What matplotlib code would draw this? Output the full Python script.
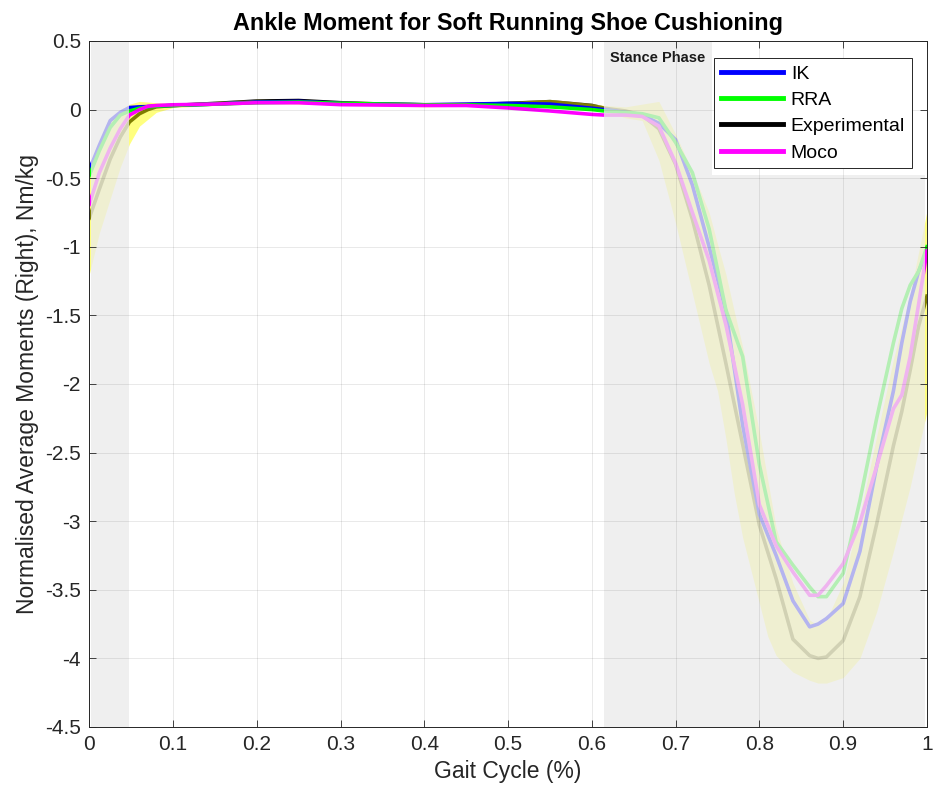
import matplotlib
matplotlib.use('Agg')
import matplotlib.pyplot as plt
from matplotlib.patches import Rectangle
from matplotlib.ticker import FuncFormatter, MultipleLocator

plt.rcParams['font.family'] = ['Liberation Sans', 'DejaVu Sans']
plt.rcParams['axes.unicode_minus'] = False

# gait cycle samples shared by the four curves
gait = [0, .012, .025, .037, .048, .06, .07, .08, .1,
        .15, .2, .25, .3, .35, .4, .45, .5, .55, .6,
        .615, .64, .66, .68, .70, .72, .74, .76, .78, .80,
        .82, .84, .86, .87, .88, .90, .92, .94, .96, .97,
        .98, .99, 1.0]

experimental = [-0.79, -0.58, -0.36, -0.2, -0.09, -0.03, 0.0, 0.02, 0.03,
                0.045, 0.062, 0.066, 0.05, 0.04, 0.035, 0.035, 0.045, 0.058, 0.03,
                0.01, -0.01, -0.04, -0.14, -0.4, -0.8, -1.28, -1.85, -2.44, -3.03,
                -3.42, -3.86, -3.98, -4.0, -3.99, -3.87, -3.55, -3.02, -2.45, -2.2,
                -1.9, -1.58, -1.36]

ik = [-0.44, -0.26, -0.08, -0.02, 0.015, 0.02, 0.022, 0.025, 0.03,
      0.04, 0.055, 0.06, 0.045, 0.04, 0.035, 0.04, 0.045, 0.04, 0.01,
      0.0, -0.02, -0.04, -0.1, -0.22, -0.55, -1.0, -1.47, -2.3, -2.95,
      -3.25, -3.58, -3.77, -3.75, -3.71, -3.6, -3.22, -2.6, -2.05, -1.7,
      -1.4, -1.18, -1.04]

rra = [-0.48, -0.3, -0.13, -0.04, -0.01, 0.01, 0.02, 0.025, 0.03,
       0.04, 0.05, 0.055, 0.045, 0.04, 0.035, 0.035, 0.03, 0.02, 0.0,
       -0.01, -0.02, -0.03, -0.06, -0.24, -0.46, -0.87, -1.46, -1.8, -2.59,
       -3.15, -3.32, -3.48, -3.55, -3.55, -3.38, -2.85, -2.25, -1.7, -1.45,
       -1.28, -1.18, -1.0]

moco = [-0.69, -0.46, -0.28, -0.14, -0.04, 0.0, 0.024, 0.03, 0.035,
        0.04, 0.05, 0.05, 0.036, 0.033, 0.03, 0.03, 0.012, -0.01, -0.035,
        -0.04, -0.04, -0.05, -0.12, -0.39, -0.75, -1.1, -1.57, -2.15, -2.88,
        -3.18, -3.37, -3.54, -3.54, -3.47, -3.31, -3.01, -2.6, -2.18, -2.08,
        -1.8, -1.42, -1.03]

# spread band around the experimental curve
band_x = [0, .012, .025, .037, .048, .06, .08, .1, .2, .3,
          .4, .5, .55, .6, .615, .64, .66, .68, .70, .72,
          .74, .75, .76, .77, .78, .80, .81, .82, .84, .86,
          .87, .88, .90, .92, .94, .96, .98, 1.0]
band_hi = [-0.44, -0.25, -0.08, 0.0, 0.04, 0.06, 0.05, 0.045, 0.075, 0.065,
           0.05, 0.06, 0.075, 0.045, 0.03, 0.02, 0.04, 0.06, -0.18, -0.45,
           -0.75, -0.98, -1.2, -1.47, -1.73, -2.35, -2.7, -3.05, -3.45, -3.72,
           -3.76, -3.72, -3.45, -2.95, -2.38, -1.82, -1.34, -0.74]
band_lo = [-1.2, -0.9, -0.65, -0.42, -0.25, -0.12, -0.02, 0.015, 0.045, 0.035,
           0.02, 0.03, 0.04, 0.01, -0.01, -0.06, -0.08, -0.37, -0.83, -1.34,
           -1.85, -2.05, -2.4, -2.8, -3.12, -3.6, -3.84, -3.98, -4.1, -4.16,
           -4.18, -4.18, -4.14, -4.0, -3.66, -3.22, -2.75, -2.2]

# shaded (non-stance) spans of the cycle
shade_spans = [(0.002, 0.048), (0.615, 0.998)]

fig = plt.figure(figsize=(9.33, 7.96), dpi=100)
ax = fig.add_axes([0.0957, 0.0867, 0.8978, 0.8618])

ax.plot(gait, experimental, color='black', lw=2.6, zorder=1.0, label='Experimental')
ax.fill_between(band_x, band_lo, band_hi, color=(1, 1, 0), alpha=0.5, lw=0, zorder=1.05)
ax.plot(gait, ik, color=(0, 0, 1), lw=2.6, zorder=1.1, label='IK')
ax.plot(gait, rra, color=(0, 1, 0), lw=2.6, zorder=1.2, label='RRA')
ax.plot(gait, moco, color=(1, 0, 1), lw=2.6, zorder=1.3, label='Moco')

for x0, x1 in shade_spans:
    ax.axvspan(x0, x1, color=(0.92, 0.92, 0.92), alpha=0.77, lw=0, zorder=2.0)

# white area behind the legend
ax.add_patch(Rectangle((0.743, 0.805), 0.257, 0.195, transform=ax.transAxes,
                       facecolor='white', edgecolor='none', zorder=2.1))

ax.text(0.622, 0.374, 'Stance Phase', fontsize=10.5, fontweight='bold',
        ha='left', va='center', color='#1a1a1a', zorder=3)

ax.set_xlim(0, 1)
ax.set_ylim(-4.5, 0.5)
ax.xaxis.set_major_locator(MultipleLocator(0.1))
ax.yaxis.set_major_locator(MultipleLocator(0.5))
fmt = FuncFormatter(lambda v, p: '%g' % round(v, 2))
ax.xaxis.set_major_formatter(fmt)
ax.yaxis.set_major_formatter(fmt)

ax.set_axisbelow(False)
ax.grid(True, color='#262626', alpha=0.1, lw=0.7)
ax.tick_params(direction='in', top=True, right=True, length=5, width=0.6,
               colors='#262626', labelsize=15, pad=6)
for s in ax.spines.values():
    s.set_color('#262626')
    s.set_linewidth(0.7)

ax.set_title('Ankle Moment for Soft Running Shoe Cushioning', fontsize=16.8,
             fontweight='bold', pad=8)
ax.set_xlabel('Gait Cycle (%)', fontsize=16.5, color='#262626')
ax.set_ylabel('Normalised Average Moments (Right), Nm/kg', fontsize=16.5, color='#262626')

handles, labels = ax.get_legend_handles_labels()
order = [labels.index(n) for n in ['IK', 'RRA', 'Experimental', 'Moco']]
leg = ax.legend([handles[i] for i in order], [labels[i] for i in order],
                loc='upper right', bbox_to_anchor=(0.982, 0.975), borderaxespad=0,
                fontsize=14, handlelength=3.2, handletextpad=0.4, borderpad=0.35,
                labelspacing=0.45, fancybox=False, framealpha=1, edgecolor='#262626')
leg.get_frame().set_linewidth(0.7)
leg.set_zorder(5)
for line in leg.get_lines():
    line.set_linewidth(3.5)

fig.savefig('out.png', dpi=100)
